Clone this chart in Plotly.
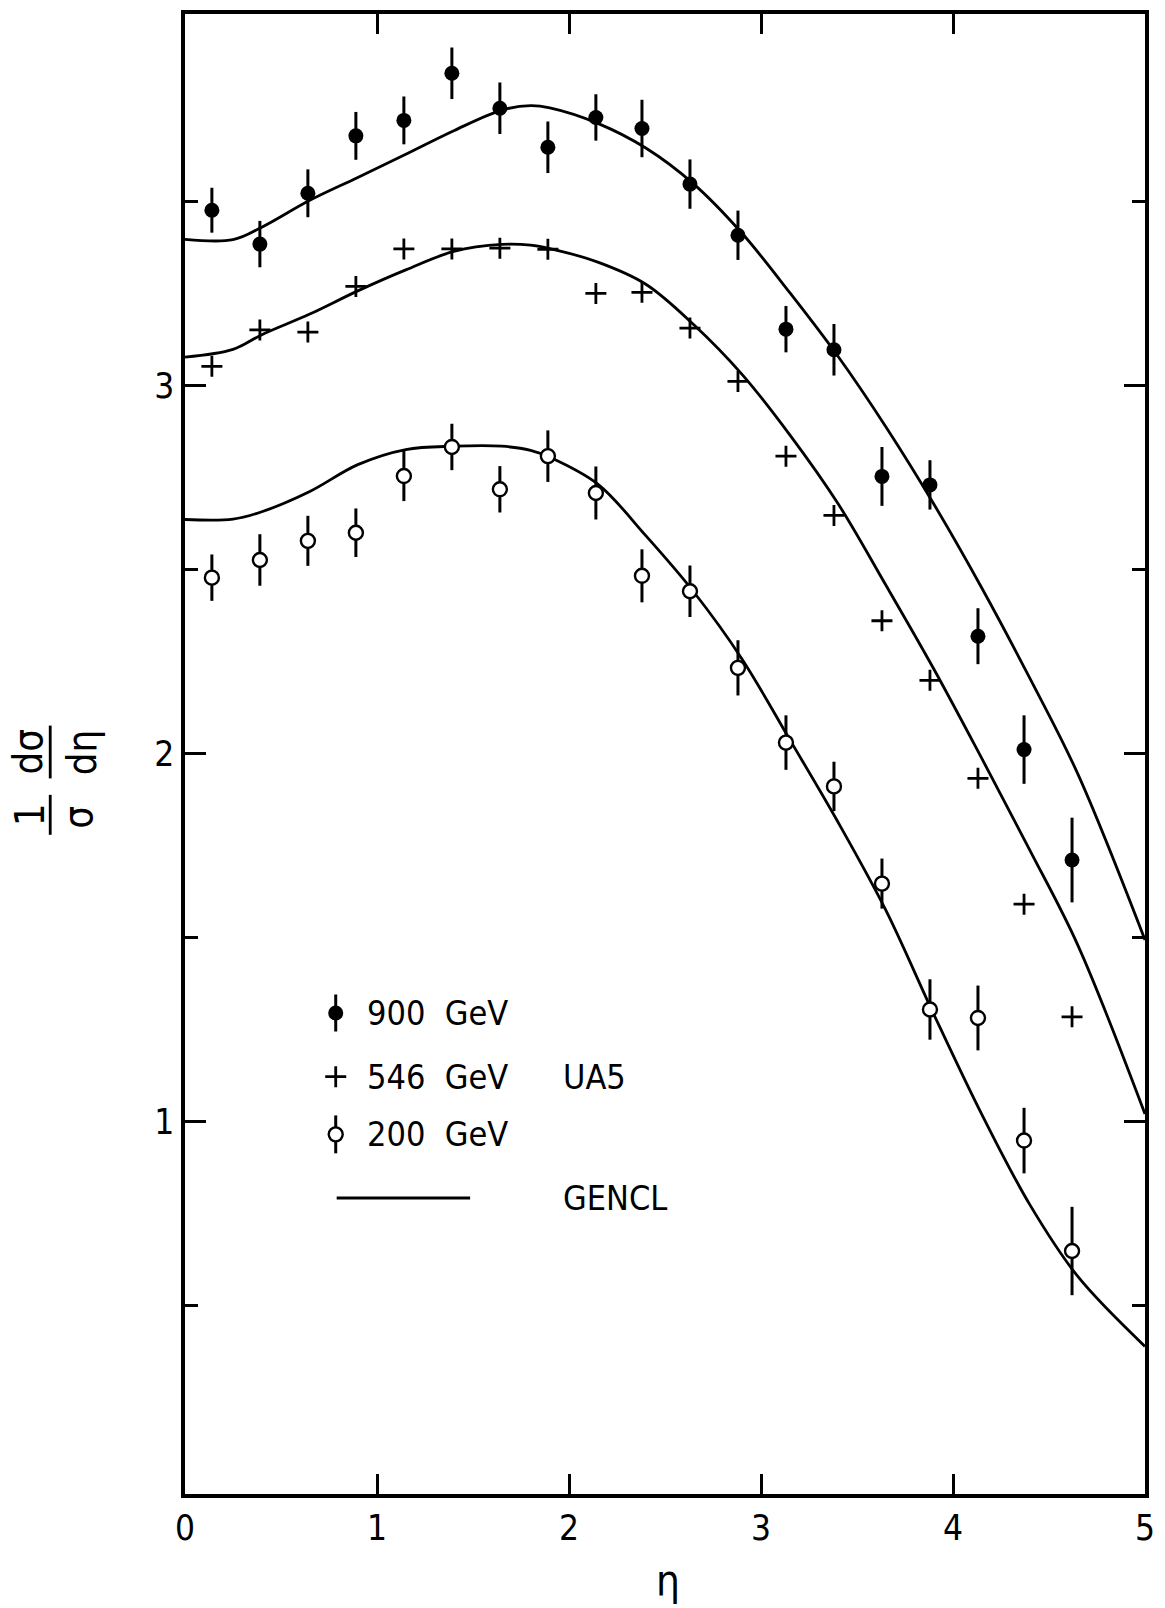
import plotly.graph_objects as go

# Pseudorapidity bin centres of the UA5 measurements
eta = [0.14, 0.39, 0.64, 0.89, 1.14, 1.39, 1.64, 1.89, 2.14, 2.38,
       2.63, 2.88, 3.13, 3.38, 3.63, 3.88, 4.13, 4.37, 4.62]

# 1/sigma dsigma/deta, UA5 data
ua5_900 = [3.476, 3.384, 3.522, 3.678, 3.720, 3.848, 3.753, 3.647, 3.728, 3.698,
           3.547, 3.408, 3.153, 3.097, 2.753, 2.730, 2.319, 2.011, 1.711]
ua5_900_err = [0.061, 0.063, 0.065, 0.065, 0.065, 0.070, 0.070, 0.070, 0.063, 0.078,
               0.067, 0.067, 0.063, 0.070, 0.080, 0.067, 0.076, 0.093, 0.115]

ua5_546 = [3.052, 3.151, 3.145, 3.269, 3.371, 3.371, 3.373, 3.370, 3.250, 3.253,
           3.156, 3.011, 2.808, 2.647, 2.361, 2.199, 1.933, 1.591, 1.285]

ua5_200 = [2.478, 2.526, 2.578, 2.600, 2.754, 2.833, 2.718, 2.808, 2.708, 2.483,
           2.441, 2.233, 2.030, 1.911, 1.647, 1.305, 1.282, 0.949, 0.649]
ua5_200_err = [0.063, 0.070, 0.068, 0.066, 0.068, 0.063, 0.063, 0.070, 0.072, 0.072,
               0.070, 0.075, 0.074, 0.067, 0.068, 0.082, 0.088, 0.089, 0.120]

# GENCL model curves
eta_model = [0.0, 0.25, 0.4, 0.65, 0.9, 1.15, 1.4, 1.65, 1.8, 1.9, 2.15,
             2.4, 2.65, 2.9, 3.15, 3.4, 3.65, 3.9, 4.15, 4.4, 4.65, 5.0]
gencl_900 = [3.397, 3.396, 3.430, 3.503, 3.565, 3.628, 3.692, 3.748, 3.760, 3.754, 3.712,
             3.645, 3.547, 3.414, 3.252, 3.080, 2.888, 2.678, 2.450, 2.205, 1.945, 1.494]
gencl_546 = [3.077, 3.098, 3.138, 3.194, 3.257, 3.314, 3.364, 3.383, 3.381, 3.372, 3.335,
             3.275, 3.165, 3.031, 2.866, 2.680, 2.458, 2.230, 1.987, 1.738, 1.480, 1.021]
gencl_200 = [2.636, 2.637, 2.657, 2.712, 2.785, 2.826, 2.835, 2.835, 2.824, 2.805, 2.732,
             2.592, 2.439, 2.258, 2.038, 1.815, 1.575, 1.292, 1.020, 0.775, 0.580, 0.390]

x_ticks = [0, 1, 2, 3, 4, 5]
y_ticks = [1, 2, 3]
y_minor = [0.5, 1.5, 2.5, 3.5]

FONT = "DejaVu Sans Condensed, Liberation Sans Narrow, Liberation Sans, sans-serif"
INK = "black"

fig = go.Figure()

for ys in (gencl_900, gencl_546, gencl_200):
    fig.add_trace(go.Scatter(x=eta_model, y=ys, mode="lines",
                             line=dict(color=INK, width=2.8, shape="spline", smoothing=1.0),
                             showlegend=False, hoverinfo="skip"))

fig.add_trace(go.Scatter(
    x=eta, y=ua5_900, mode="markers", name="900 GeV",
    marker=dict(symbol="circle", size=15, color=INK),
    error_y=dict(type="data", array=ua5_900_err, visible=True, width=0, thickness=3, color=INK),
    showlegend=False))

fig.add_trace(go.Scatter(
    x=eta, y=ua5_546, mode="markers", name="546 GeV",
    marker=dict(symbol="cross-thin", size=15, line=dict(color=INK, width=2.8)),
    showlegend=False))

fig.add_trace(go.Scatter(
    x=eta, y=ua5_200, mode="markers", name="200 GeV",
    marker=dict(symbol="circle", size=14, color="white", line=dict(color=INK, width=2.4)),
    error_y=dict(type="data", array=ua5_200_err, visible=True, width=0, thickness=3, color=INK),
    showlegend=False))

# Key drawn on an overlay axis spanning the plot area (0..1 in both directions)
key_x = 0.157
key_rows = {"900": 0.325, "546": 0.282, "200": 0.243, "line": 0.200}
fig.add_trace(go.Scatter(
    x=[key_x], y=[key_rows["900"]], xaxis="x2", yaxis="y2", mode="markers",
    marker=dict(symbol="circle", size=15, color=INK),
    error_y=dict(type="constant", value=0.0125, width=0, thickness=3, color=INK),
    showlegend=False, hoverinfo="skip"))
fig.add_trace(go.Scatter(
    x=[key_x], y=[key_rows["546"]], xaxis="x2", yaxis="y2", mode="markers",
    marker=dict(symbol="cross-thin", size=15, line=dict(color=INK, width=2.8)),
    showlegend=False, hoverinfo="skip"))
fig.add_trace(go.Scatter(
    x=[key_x], y=[key_rows["200"]], xaxis="x2", yaxis="y2", mode="markers",
    marker=dict(symbol="circle", size=14, color="white", line=dict(color=INK, width=2.4)),
    error_y=dict(type="constant", value=0.0128, width=0, thickness=3, color=INK),
    showlegend=False, hoverinfo="skip"))
fig.add_trace(go.Scatter(
    x=[0.158, 0.297], y=[key_rows["line"]] * 2, xaxis="x2", yaxis="y2", mode="lines",
    line=dict(color=INK, width=2.8), showlegend=False, hoverinfo="skip"))

annotations = []
def key_text(x, y, text):
    annotations.append(dict(x=x, y=y, xref="paper", yref="paper", text=text,
                            showarrow=False, xanchor="left", yanchor="middle",
                            font=dict(family=FONT, size=34, color=INK)))

key_text(0.187, key_rows["900"], "900  GeV")
key_text(0.187, key_rows["546"], "546  GeV")
key_text(0.187, key_rows["200"], "200  GeV")
key_text(0.392, key_rows["546"], "UA5")
key_text(0.392, key_rows["line"], "GENCL")

# Y-axis title: 1/sigma dsigma/deta as two stacked fractions, rotated
def ytitle_part(x, y, text):
    annotations.append(dict(x=x, y=y, xref="paper", yref="paper", text=text,
                            showarrow=False, textangle=-90, xanchor="center", yanchor="middle",
                            font=dict(family=FONT, size=40, color=INK)))

ytitle_part(-0.162, 0.4589, "1")
ytitle_part(-0.1115, 0.4575, "σ")
ytitle_part(-0.163, 0.5013, "dσ")
ytitle_part(-0.107, 0.5013, "dη")

# X-axis title, kept inside the bottom margin
annotations.append(dict(x=0.503, y=-0.0762, xref="paper", yref="paper", text="η",
                        showarrow=False, xanchor="center", yanchor="bottom",
                        font=dict(family=FONT, size=42, color=INK)))

shapes = [
    dict(type="line", xref="paper", yref="paper", x0=-0.1404, x1=-0.1404, y0=0.4454, y1=0.4724,
         line=dict(color=INK, width=2.8)),
    dict(type="line", xref="paper", yref="paper", x0=-0.1404, x1=-0.1404, y0=0.4835, y1=0.5192,
         line=dict(color=INK, width=2.8)),
]

axis_common = dict(showgrid=False, zeroline=False, showline=True, linecolor=INK, linewidth=3.5,
                   mirror="ticks", ticks="inside", tickcolor=INK, tickwidth=2.8,
                   tickfont=dict(family=FONT, size=35, color=INK))

fig.update_layout(
    width=1165, height=1608,
    margin=dict(l=185, r=11, t=10, b=114),
    paper_bgcolor="white", plot_bgcolor="white",
    xaxis=dict(range=[0, 5], tickvals=x_ticks, ticktext=[str(v) for v in x_ticks],
               ticklen=20, **axis_common),
    yaxis=dict(range=[-0.011, 4.009], tickvals=y_ticks, ticktext=[str(v) for v in y_ticks],
               ticklen=21, minor=dict(tickvals=y_minor, ticks="inside", ticklen=13,
                                      tickwidth=2.8, tickcolor=INK),
               **axis_common),
    xaxis2=dict(range=[0, 1], overlaying="x", visible=False, fixedrange=True),
    yaxis2=dict(range=[0, 1], overlaying="y", visible=False, fixedrange=True),
    annotations=annotations,
    shapes=shapes,
    showlegend=False,
)

fig.write_html("out.html")
